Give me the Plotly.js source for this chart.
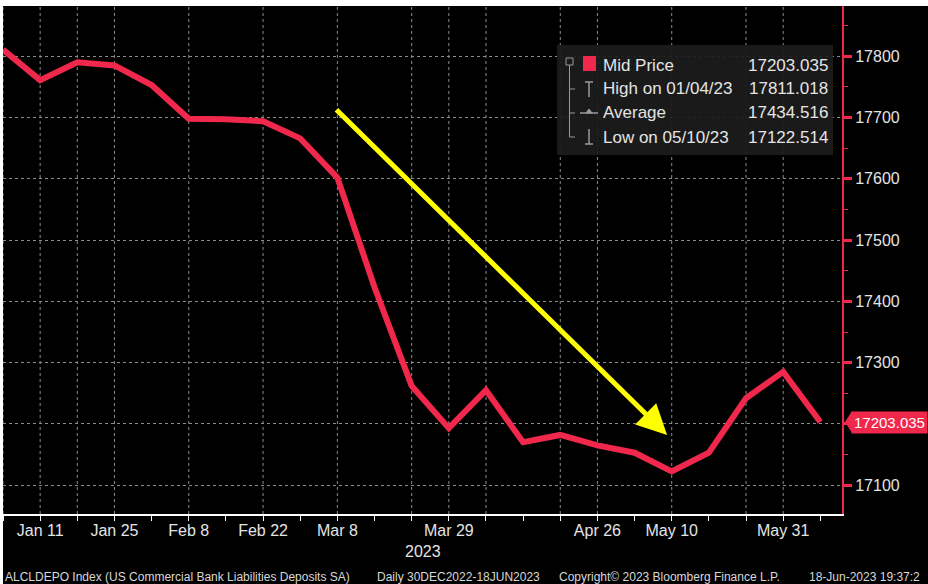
<!DOCTYPE html>
<html>
<head>
<meta charset="utf-8">
<script src="https://cdn.plot.ly/plotly-3.0.1.min.js"></script>
<style>
  html, body { margin: 0; padding: 0; background: #ffffff; width: 928px; height: 584px; overflow: hidden; }
  #chart { position: absolute; left: 3px; top: 6px; width: 925px; height: 578px; }
</style>
</head>
<body>
<div id="chart"></div>
<script>
// ---- data ----
const dates = ['2023-01-04','2023-01-11','2023-01-18','2023-01-25','2023-02-01','2023-02-08','2023-02-15',
  '2023-02-22','2023-03-01','2023-03-08','2023-03-15','2023-03-22','2023-03-29','2023-04-05','2023-04-12',
  '2023-04-19','2023-04-26','2023-05-03','2023-05-10','2023-05-17','2023-05-24','2023-05-31','2023-06-07'];
const midPrice = [17811.018, 17761, 17790, 17785, 17753, 17698, 17697,
  17694, 17666, 17602, 17423, 17262, 17193, 17255, 17170,
  17182, 17165, 17153, 17122.514, 17153, 17242, 17285, 17203.035];

const xTickText = ['', 'Jan 11', '', 'Jan 25', '', 'Feb 8', '', 'Feb 22', '', 'Mar 8', '', '', 'Mar 29', '', '',
  '', 'Apr 26', '', 'May 10', '', '', 'May 31', ''];
const gridDates = ['2023-01-04','2023-01-11','2023-01-18','2023-01-25','2023-02-08','2023-02-22','2023-03-08',
  '2023-03-22','2023-03-29','2023-04-05','2023-04-19','2023-04-26','2023-05-10','2023-05-24','2023-05-31'];

const yTickVals = [17100, 17200, 17300, 17400, 17500, 17600, 17700, 17800];
const yTickText = ['17100', '', '17300', '17400', '17500', '17600', '17700', '17800'];

const legendLabels = ['Mid Price', 'High on 01/04/23', 'Average', 'Low on 05/10/23'];
const legendValues = ['17203.035', '17811.018', '17434.516', '17122.514'];
const lastValueText = '17203.035';

const arrowTail = ['2023-03-07 13:00', 17715];
const arrowHead = ['2023-05-09 03:00', 17182];

const yearLabel = '2023';
const footerTexts = ['ALCLDEPO Index (US Commercial Bank Liabilities Deposits SA)', 'Daily 30DEC2022-18JUN2023',
  'Copyright\u00A9 2023 Bloomberg Finance L.P.', '18-Jun-2023 19:37:2'];

// ---- styling / layout helpers (page pixel -> paper) ----
const PW = 839, PH = 508, OX = 3, OY = 6;
const px = X => (X - OX) / PW;
const py = Y => 1 - (Y - OY) / PH;

const RED = '#f0284c';
const TXT = '#e4e4e4';
const GRID = '#8c8c8c';
const ICON = '#9a9a9a';
const FONT = 'Liberation Sans, Arial, sans-serif';

const trace = {
  x: dates, y: midPrice, type: 'scatter', mode: 'lines',
  line: { color: RED, width: 6, shape: 'linear' },
  hoverinfo: 'skip', showlegend: false
};

const shapes = [];
gridDates.forEach(d => shapes.push({
  type: 'line', xref: 'x', yref: 'paper', x0: d, x1: d, y0: 0, y1: 1, layer: 'below',
  line: { color: GRID, width: 1, dash: '3px,3px' }
}));
shapes.push({ type: 'rect', xref: 'paper', yref: 'paper', x0: px(557), x1: px(833), y0: py(155), y1: py(45),
  fillcolor: 'rgba(28,28,28,0.93)', line: { width: 0 }, layer: 'above' });
shapes.push({ type: 'rect', xref: 'paper', yref: 'paper', x0: px(566), x1: px(573), y0: py(65), y1: py(58),
  line: { color: ICON, width: 1 }, layer: 'above' });
shapes.push({ type: 'line', xref: 'paper', yref: 'paper', x0: px(569.5), x1: px(569.5), y0: py(65), y1: py(137),
  line: { color: ICON, width: 1 }, layer: 'above' });
[89, 113, 137].forEach(Y => shapes.push({ type: 'line', xref: 'paper', yref: 'paper',
  x0: px(569.5), x1: px(575), y0: py(Y), y1: py(Y), line: { color: ICON, width: 1 }, layer: 'above' }));
shapes.push({ type: 'rect', xref: 'paper', yref: 'paper', x0: px(583), x1: px(596), y0: py(71), y1: py(56),
  fillcolor: RED, line: { width: 0 }, layer: 'above' });
shapes.push({ type: 'line', xref: 'paper', yref: 'paper', x0: px(589), x1: px(589), y0: py(82), y1: py(97),
  line: { color: ICON, width: 1.5 }, layer: 'above' });
shapes.push({ type: 'line', xref: 'paper', yref: 'paper', x0: px(585), x1: px(593), y0: py(82), y1: py(82),
  line: { color: ICON, width: 1.5 }, layer: 'above' });
shapes.push({ type: 'line', xref: 'paper', yref: 'paper', x0: px(580), x1: px(598), y0: py(113), y1: py(113),
  line: { color: ICON, width: 1.5 }, layer: 'above' });
shapes.push({ type: 'path', xref: 'paper', yref: 'paper',
  path: `M ${px(586)} ${py(113)} L ${px(589)} ${py(109)} L ${px(592)} ${py(113)} Z`,
  fillcolor: ICON, line: { color: ICON, width: 1 }, layer: 'above' });
shapes.push({ type: 'line', xref: 'paper', yref: 'paper', x0: px(589), x1: px(589), y0: py(129), y1: py(144),
  line: { color: ICON, width: 1.5 }, layer: 'above' });
shapes.push({ type: 'line', xref: 'paper', yref: 'paper', x0: px(585), x1: px(593), y0: py(144), y1: py(144),
  line: { color: ICON, width: 1.5 }, layer: 'above' });
const lastVal = midPrice[midPrice.length - 1];
const pxPerUnit = PH / (17882 - 17053);
shapes.push({ type: 'path', xref: 'paper', yref: 'y',
  path: `M ${px(845)} ${lastVal} L ${px(852)} ${lastVal + 11 / pxPerUnit} L ${px(852)} ${lastVal - 11 / pxPerUnit} Z`,
  fillcolor: RED, line: { width: 0 }, layer: 'above' });

const annotations = [];
legendLabels.forEach((t, i) => annotations.push({
  xref: 'paper', yref: 'paper', x: px(601), y: py(65 + 24 * i), xanchor: 'left', yanchor: 'middle',
  text: t, showarrow: false, font: { family: FONT, size: 17, color: TXT }
}));
legendValues.forEach((t, i) => annotations.push({
  xref: 'paper', yref: 'paper', x: px(830), y: py(65 + 24 * i), xanchor: 'right', yanchor: 'middle',
  text: t, showarrow: false, font: { family: FONT, size: 17, color: TXT }
}));
annotations.push({
  xref: 'paper', yref: 'y', x: px(851), y: lastVal, xanchor: 'left', yanchor: 'middle',
  text: lastValueText, showarrow: false, bgcolor: RED, borderpad: 2,
  font: { family: FONT, size: 15, color: '#ffffff' }
});
annotations.push({
  xref: 'x', yref: 'y', axref: 'x', ayref: 'y',
  x: arrowHead[0], y: arrowHead[1], ax: arrowTail[0], ay: arrowTail[1],
  text: '', showarrow: true, arrowhead: 2, arrowsize: 1.2, arrowwidth: 5, arrowcolor: '#ffff00'
});
annotations.push({ xref: 'paper', yref: 'paper', x: px(423), y: py(551), xanchor: 'center', yanchor: 'middle',
  text: yearLabel, showarrow: false, font: { family: FONT, size: 16, color: TXT } });
const footerX = [3, 375, 557, 807];
footerTexts.forEach((t, i) => annotations.push({
  xref: 'paper', yref: 'paper', x: px(footerX[i]), y: py(577), xanchor: 'left', yanchor: 'middle',
  text: t, showarrow: false, font: { family: FONT, size: 12, color: '#d8d8d8' }
}));

const layout = {
  width: 925, height: 578,
  margin: { l: 0, r: 86, t: 0, b: 70, pad: 0 },
  paper_bgcolor: '#000000', plot_bgcolor: '#000000',
  showlegend: false,
  font: { family: FONT, color: TXT },
  xaxis: {
    type: 'date', range: ['2023-01-04', '2023-06-11 02:00'],
    tickmode: 'array', tickvals: dates, ticktext: xTickText,
    ticks: 'outside', ticklen: 5, tickwidth: 1, tickcolor: '#ffffff',
    ticklabelstandoff: -4,
    showline: true, linecolor: '#ffffff', linewidth: 2,
    showgrid: false, zeroline: false,
    tickfont: { family: FONT, size: 16, color: TXT }
  },
  yaxis: {
    side: 'right', range: [17053, 17882],
    tickmode: 'array', tickvals: yTickVals, ticktext: yTickText,
    ticks: 'outside', ticklen: 8, tickwidth: 3, tickcolor: RED,
    showline: true, linecolor: RED, linewidth: 2,
    showgrid: true, gridcolor: GRID, gridwidth: 1, griddash: '3px,3px',
    zeroline: false,
    minor: { dtick: 50, tick0: 17050, ticks: 'outside', ticklen: 4, tickwidth: 1, tickcolor: RED, showgrid: false },
    tickfont: { family: FONT, size: 16, color: TXT }
  },
  shapes: shapes,
  annotations: annotations
};

Plotly.newPlot('chart', [trace], layout, { displayModeBar: false, staticPlot: true });
</script>
</body>
</html>
